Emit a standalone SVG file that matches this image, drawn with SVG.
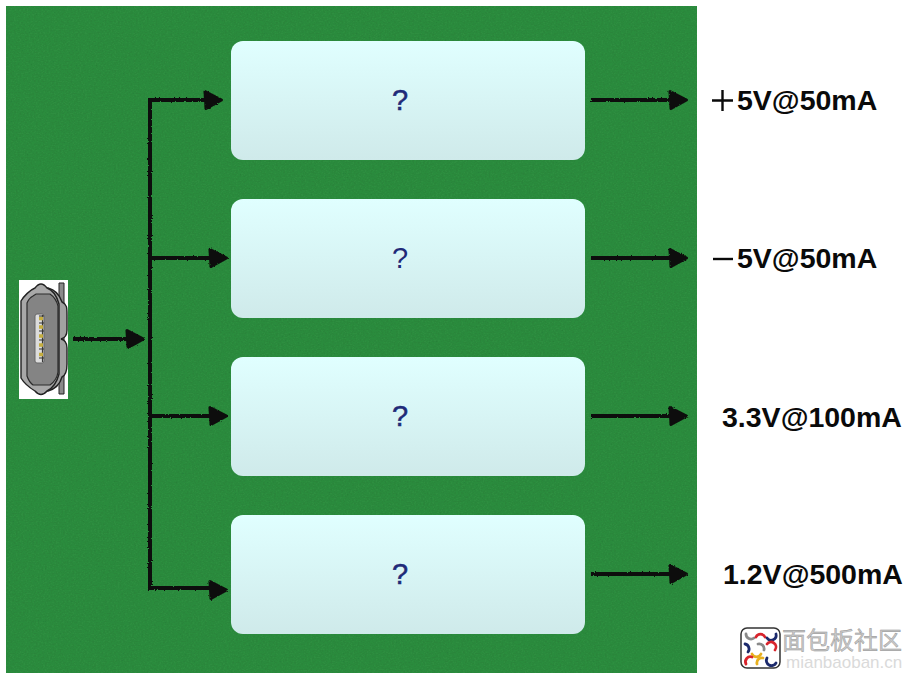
<svg xmlns="http://www.w3.org/2000/svg" width="918" height="679" viewBox="0 0 918 679">
  <style>
    .box { fill: url(#boxFill); }
    .q { font: 29px "Liberation Sans", Arial, sans-serif; fill: #1f2a78; stroke: #1f2a78; stroke-width: 0.5; text-anchor: middle; }
    .out { font: bold 28.5px "Liberation Sans", Arial, sans-serif; fill: #0a0a0a; }
    .sign { stroke: #0a0a0a; stroke-width: 2.4; fill: none; }
    .wire { fill: none; stroke: #0b0d0a; stroke-width: 4; stroke-linecap: square; stroke-linejoin: miter; }
    .tip { fill: #0b0d0a; stroke: #0b0d0a; stroke-width: 3; stroke-linejoin: round; }
  </style>
  <defs>
    <linearGradient id="boxFill" x1="0" y1="0" x2="0" y2="1">
      <stop offset="0" stop-color="#e0ffff"/>
      <stop offset="1" stop-color="#cfeaea"/>
    </linearGradient>
    <filter id="rough" x="0" y="0" width="918" height="679" filterUnits="userSpaceOnUse">
      <feTurbulence type="fractalNoise" baseFrequency="0.7" numOctaves="2" seed="4"/>
      <feDisplacementMap in="SourceGraphic" scale="2.500" xChannelSelector="R" yChannelSelector="G"/>
    </filter>
    <filter id="felt" x="0" y="0" width="100%" height="100%">
      <feTurbulence type="fractalNoise" baseFrequency="0.55 0.75" numOctaves="2" seed="9"/>
      <feColorMatrix values="0 0 0 0 0  0 0 0 0 0  0 0 0 0 0  0.3 0 0 0 -0.1"/>
      <feComposite in2="SourceGraphic" operator="in"/>
      <feMerge><feMergeNode in="SourceGraphic"/><feMergeNode/></feMerge>
    </filter>
    <path id="head" class="tip" d="M-18 -8.500 L-1.500 0 L-17 8.500 Z"/>
  </defs>

  <rect width="918" height="679" fill="#ffffff"/>
  <rect x="6" y="6" width="691" height="667" fill="#2e8e41" filter="url(#felt)"/>

  <g id="connectors" filter="url(#rough)">
    <path class="wire" d="M75 339 H128"/>
    <path class="wire" d="M150 588 V100 H207"/>
    <path class="wire" d="M150 258 H210"/>
    <path class="wire" d="M150 416 H210"/>
    <path class="wire" d="M150 588 H210"/>
    <path class="wire" d="M593 100 H672"/>
    <path class="wire" d="M593 258 H672"/>
    <path class="wire" d="M593 416 H672"/>
    <path class="wire" d="M593 574 H672"/>
    <use href="#head" x="145" y="339"/>
    <use href="#head" x="223" y="100"/>
    <use href="#head" x="228" y="258"/>
    <use href="#head" x="228" y="416"/>
    <use href="#head" x="228" y="590"/>
    <use href="#head" x="688" y="100"/>
    <use href="#head" x="688" y="258"/>
    <use href="#head" x="688" y="416"/>
    <use href="#head" x="688" y="574"/>
  </g>

  <g id="usb-port">
    <rect x="19" y="280" width="49" height="119" fill="#ffffff"/>
    <path d="M59 283 H64 V394 H59 Z" fill="#8a8a8a" stroke="#222" stroke-width="1"/>
    <path d="M48 288 C56 290 60 296 62 302 C67 304 67 308 67 315 V330 C67 335 65 338 61 339 C65 340 67 343 67 348 V364 C67 371 66 375 62 377 C60 384 55 389 48 391 Z" fill="#a2a2a2" stroke="#222" stroke-width="1.400"/>
    <path d="M35 288 Q41 280 47 288 C53 290 57 297 59 304 V374 C57 382 53 388 47 391 Q41 398 35 391 C30 388 24 383 21 378 V301 C24 296 30 290 35 288 Z" fill="#a8a8a8" stroke="#222" stroke-width="1.400"/>
    <path d="M33 296 Q29 298 27 303 V376 Q29 382 33 385 H50 Q57 380 58 372 V306 Q56 298 50 294 H36 Z" fill="#848484" stroke="#2a2a2a" stroke-width="1.200"/>
    <rect x="35" y="314" width="9" height="49" rx="2" fill="#dcdcdc" stroke="#666" stroke-width="1"/>
    <path d="M42.500 315 V362" stroke="#3a3a3a" stroke-width="1.200"/>
    <path d="M39 318.500 H43 M39 327 H43 M39 336 H43 M39 345 H43 M39 354.500 H43" stroke="#c4ad3e" stroke-width="3.500"/>
    <path d="M39 316 H44 M39 323 H44 M39 331 H44 M39 340 H44 M39 349 H44 M39 358 H44" stroke="#333" stroke-width="1"/>
  </g>

  <g id="block-1"><rect class="box" x="231" y="41" width="354" height="119" rx="12"/><text class="q" x="400" y="110">?</text></g>
  <g id="block-2"><rect class="box" x="231" y="199" width="354" height="119" rx="12"/><text class="q" x="400" y="268" style="stroke-width:0">?</text></g>
  <g id="block-3"><rect class="box" x="231" y="357" width="354" height="119" rx="12"/><text class="q" x="400" y="426">?</text></g>
  <g id="block-4"><rect class="box" x="231" y="515" width="354" height="119" rx="12"/><text class="q" x="400" y="584">?</text></g>

  <g id="output-1"><path class="sign" d="M712 100.500 H733 M722.500 90 V111"/><text class="out" x="737" y="110">5V@50mA</text></g>
  <g id="output-2"><path class="sign" d="M713 259 H733"/><text class="out" x="737" y="268">5V@50mA</text></g>
  <g id="output-3"><text class="out" x="722" y="427">3.3V@100mA</text></g>
  <g id="output-4"><text class="out" x="723" y="584">1.2V@500mA</text></g>

  <g id="site-mark">
    <rect x="741" y="628" width="39" height="40" rx="6" fill="#ffffff" stroke="#333" stroke-width="1.500"/>
    <g fill="none" stroke-width="2.800" stroke-linecap="round">
      <path d="M746 634 a5 5 0 0 0 8 4" stroke="#8a8a8a"/>
      <path d="M756 637 a5 5 0 0 1 9 0" stroke="#d8242c"/>
      <path d="M767 638 a5 5 0 0 0 9 -4" stroke="#1c2a6c"/>
      <path d="M745 644 a5 5 0 0 1 3 8" stroke="#1c2a6c"/>
      <path d="M752 654 a5 5 0 0 0 9 0" stroke="#e8b020"/>
      <path d="M758 644 a5 5 0 0 1 6 6" stroke="#8a8a8a"/>
      <path d="M767 644 a5 5 0 0 1 8 6" stroke="#d8242c"/>
      <path d="M746 664 a5 5 0 0 1 6 -7" stroke="#d8242c"/>
      <path d="M757 664 a5 5 0 0 1 6 -6" stroke="#e8b020"/>
      <path d="M767 658 a5 5 0 0 0 9 5" stroke="#1c2a6c"/>
    </g>
    <text x="782" y="649" font-family="'Liberation Sans','Noto Sans CJK SC',sans-serif" font-size="24" fill="#c8c8c8" stroke="#8f8f8f" stroke-width="0.400">面包板社区</text>
    <text x="786" y="668" font-family="'Liberation Sans',Arial,sans-serif" font-size="17" fill="#dadada">mianbaoban.cn</text>
  </g>
</svg>
